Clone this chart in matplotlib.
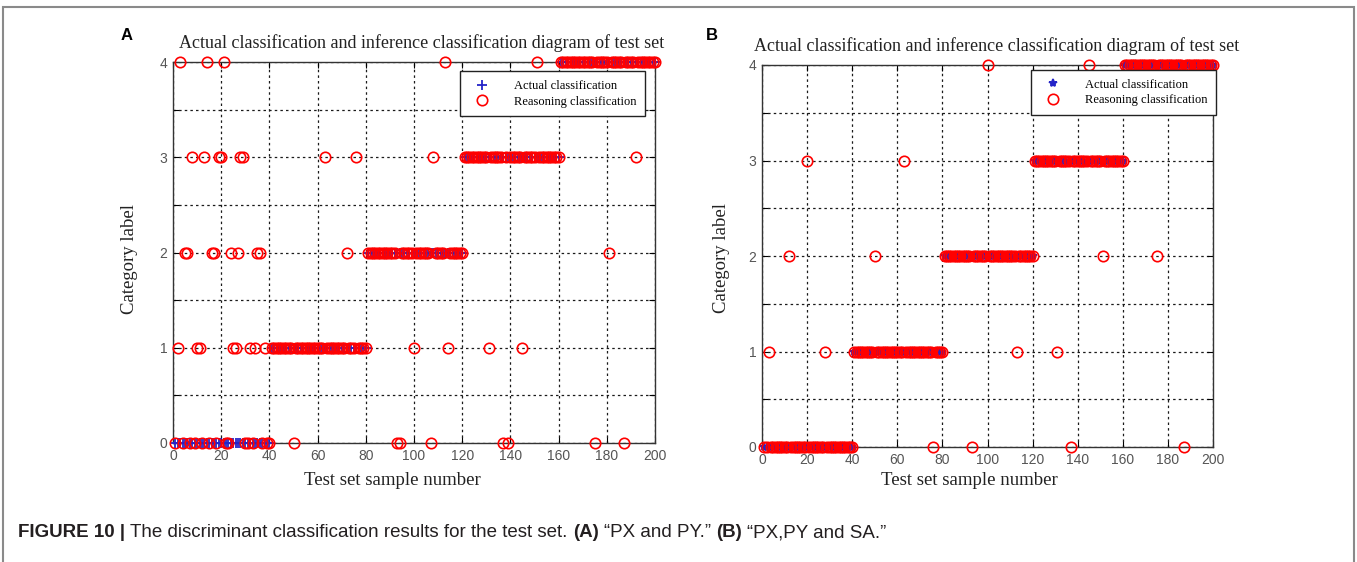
import numpy as np
import matplotlib
matplotlib.use("Agg")
import matplotlib.pyplot as plt
from matplotlib.patches import Rectangle
from matplotlib.offsetbox import TextArea, HPacker, AnchoredOffsetbox

# five categories, 40 test samples each
class_labels = [0, 1, 2, 3, 4]
class_sizes = [40, 40, 40, 40, 40]

# samples whose inferred class differs from the actual one: {sample number: inferred class}
wrong_a = {2: 1, 10: 1, 11: 1, 25: 1, 26: 1, 32: 1, 34: 1, 38: 1,
           5: 2, 6: 2, 16: 2, 17: 2, 24: 2, 27: 2, 35: 2, 36: 2,
           8: 3, 13: 3, 19: 3, 20: 3, 28: 3, 29: 3,
           3: 4, 14: 4, 21: 4,
           50: 0, 72: 2, 63: 3, 76: 3,
           93: 0, 94: 0, 107: 0, 100: 1, 114: 1, 108: 3, 113: 4,
           137: 0, 139: 0, 131: 1, 145: 1, 151: 4,
           175: 0, 187: 0, 181: 2, 192: 3}
wrong_b = {3: 1, 28: 1, 12: 2, 20: 3,
           76: 0, 50: 2, 63: 3,
           93: 0, 113: 1, 100: 4,
           137: 0, 131: 1, 151: 2, 145: 4,
           187: 0, 175: 2}

title = "Actual classification and inference classification diagram of test set"
xticks = [0, 20, 40, 60, 80, 100, 120, 140, 160, 180, 200]
yticks = [0, 0.5, 1, 1.5, 2, 2.5, 3, 3.5, 4]
ytick_labels = ["0", "", "1", "", "2", "", "3", "", "4"]

samples = np.arange(1, sum(class_sizes) + 1)
actual = np.repeat(class_labels, class_sizes)


def inferred(wrong):
    pred = actual.copy()
    for k, v in wrong.items():
        pred[k - 1] = v
    return pred


W, H = 1357, 562
fig = plt.figure(figsize=(W / 100, H / 100), dpi=100)

serif = "Liberation Serif"
sans = "Liberation Sans"


def panel(rect, pred, actual_marker, actual_ms, letter, letter_xy, leg_anchor,
          title_x, xlab_coords, ylab_coords):
    ax = fig.add_axes(rect)
    ax.plot(samples, actual, linestyle="none", marker=actual_marker, color="#2424c8",
            ms=actual_ms, mew=1.3, clip_on=False, zorder=3, label="Actual classification")
    ax.plot(samples, pred, linestyle="none", marker="o", mfc="none", mec="red",
            ms=7.5, mew=1.2, clip_on=False, zorder=4, label="Reasoning classification")
    ax.set_xlim(0, 200)
    ax.set_ylim(0, 4)
    ax.set_xticks(xticks)
    ax.set_yticks(yticks)
    ax.set_yticklabels(ytick_labels)
    ax.tick_params(direction="in", length=4, labelsize=10, labelcolor="#555555",
                   top=True, right=True, pad=4)
    for lab in ax.get_xticklabels() + ax.get_yticklabels():
        lab.set_family(sans)
    ax.grid(True, color="#1a1a1a", linestyle=(0, (2, 2.5)), linewidth=0.9)
    for s in ax.spines.values():
        s.set_color("#333333")
        s.set_linewidth(1)
    ax.set_title(title, fontsize=13, family=serif, color="#222222", pad=10, x=title_x)
    ax.set_xlabel("Test set sample number", fontsize=13.5, family=serif, color="#222222")
    ax.set_ylabel("Category label", fontsize=13.5, family=serif, color="#222222")
    ax.xaxis.set_label_coords(*xlab_coords)
    ax.yaxis.set_label_coords(*ylab_coords)
    leg = ax.legend(loc="upper left", bbox_to_anchor=leg_anchor, prop={"family": serif, "size": 9},
                    fancybox=False, framealpha=1, edgecolor="#222222", borderpad=0.7,
                    handletextpad=1.4, borderaxespad=0, labelspacing=0.3, handlelength=2.2)
    leg.get_frame().set_linewidth(1)
    fig.text(letter_xy[0] / W, 1 - letter_xy[1] / H, letter, fontsize=12, fontweight="bold",
             family=sans, ha="center", va="center")
    return ax


ax_a = panel([173 / W, 1 - 443 / H, 482 / W, 381 / H], inferred(wrong_a), "+", 7, "A", (127, 35),
             (0.595, 0.976), 0.516, (0.455, -0.075), (-0.073, 0.483))
ax_b = panel([762 / W, 1 - 447 / H, 451 / W, 382 / H], inferred(wrong_b), "*", 6, "B", (712, 35),
             (0.596, 0.987), 0.52, (0.46, -0.065), (-0.071, 0.495))

# caption with bold figure number and panel letters
pieces = [("FIGURE 10 |", "bold"),
          ("The discriminant classification results for the test set.", "normal"),
          ("(A)", "bold"), ("\u201cPX and PY.\u201d", "normal"),
          ("(B)", "bold"), ("\u201cPX,PY and SA.\u201d", "normal")]
boxes = [TextArea(t, textprops=dict(fontsize=13.5, fontweight=w, family=sans, color="#231f20"))
         for t, w in pieces]
cap = AnchoredOffsetbox(loc="lower left", child=HPacker(children=boxes, sep=3.8, pad=0, align="baseline"),
                        bbox_to_anchor=(18 / W, 1 - 541 / H), bbox_transform=fig.transFigure,
                        frameon=False, pad=0, borderpad=0)
fig.add_artist(cap)

# outer frame around the figure
fig.add_artist(Rectangle((3 / W, -0.02), 1351 / W, 1 - 7 / H + 0.02, transform=fig.transFigure,
                         fill=False, edgecolor="#8a8a8a", linewidth=1.5))

fig.savefig("out.png", dpi=100)
